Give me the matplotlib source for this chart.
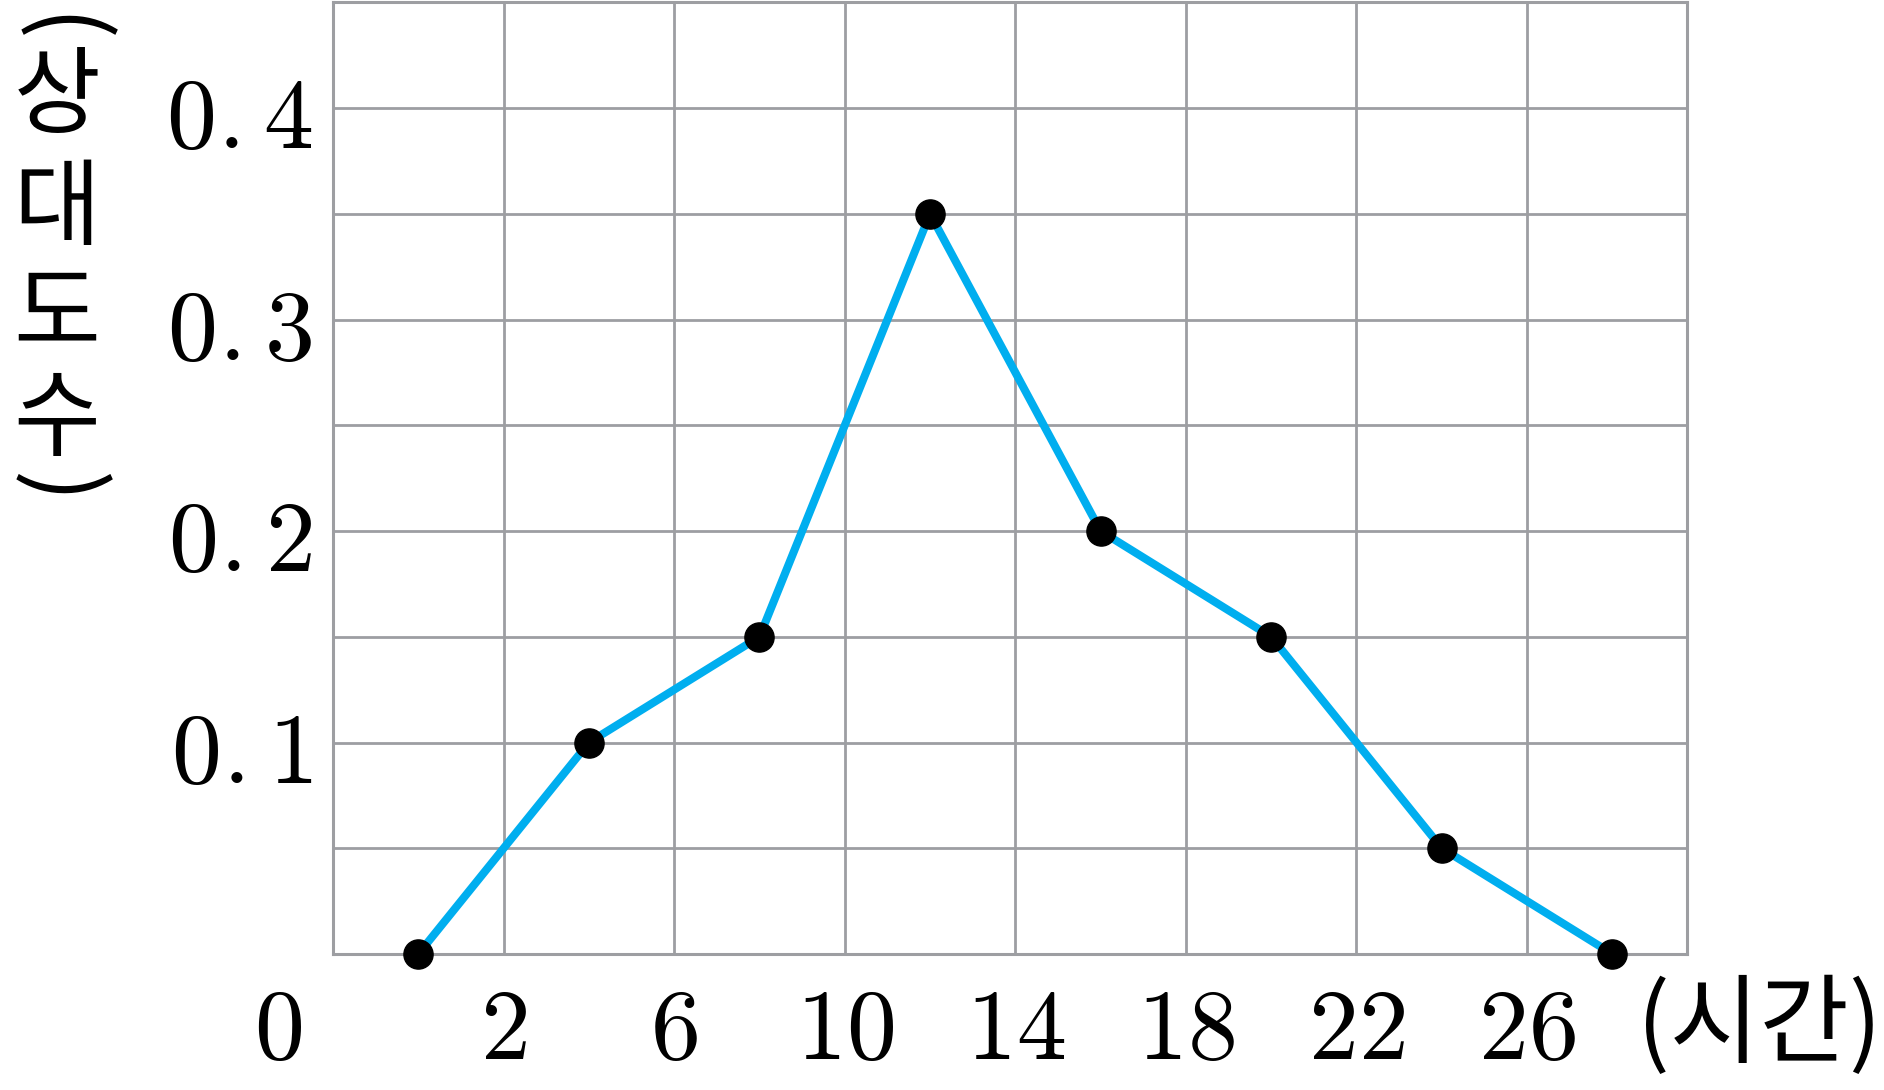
import matplotlib
matplotlib.use("Agg")
import matplotlib.pyplot as plt
from matplotlib.ticker import MultipleLocator

plt.rcParams['mathtext.fontset'] = 'cm'
plt.rcParams['font.family'] = ['Noto Sans CJK KR', 'DejaVu Sans']

# data
hours = [0, 4, 8, 12, 16, 20, 24, 28]
rel_freq = [0, 0.1, 0.15, 0.35, 0.2, 0.15, 0.05, 0]
xtick_vals = [2, 6, 10, 14, 18, 22, 26]
ytick_vals = [0.1, 0.2, 0.3, 0.4]
ylabel_chars = ['상', '대', '도', '수']
xlabel_text = '(시간)'

grid_col = '#9d9ea2'
line_col = '#00aeef'

fig = plt.figure(figsize=(18.84, 10.90), dpi=100)
ax = fig.add_axes([0.1768, 0.1248, 0.8954 - 0.1768, 0.9978 - 0.1248])

ax.set_xlim(-2, 29.75)
ax.set_ylim(0, 0.45)

ax.set_xticks(xtick_vals)
ax.set_xticklabels(['$%d$' % v for v in xtick_vals])
ax.set_yticks(ytick_vals)
ylabels = []
for v in ytick_vals:
    a, b = ('%.1f' % v).split('.')
    ylabels.append(r'$%s\hspace{0.012}.\hspace{0.012}%s$' % (a, b))
ax.set_yticklabels(ylabels)
ax.yaxis.set_minor_locator(MultipleLocator(0.05))
ax.tick_params(which='both', length=0)
ax.tick_params(axis='x', labelsize=72, pad=18)
ax.tick_params(axis='y', labelsize=72, pad=15)

ax.grid(True, which='major', axis='x', color=grid_col, lw=2)
ax.grid(True, which='both', axis='y', color=grid_col, lw=2)
ax.set_axisbelow(True)
for sp in ax.spines.values():
    sp.set_color(grid_col)
    sp.set_linewidth(2.2)

ax.plot(hours, rel_freq, color=line_col, lw=5.8, zorder=3, clip_on=False)
ax.plot(hours, rel_freq, 'o', color='black', ms=21, zorder=4, clip_on=False)

# origin label and x unit
ax.annotate('$0$', xy=(-3.3, 0), xytext=(0, -18), textcoords='offset points',
            fontsize=72, ha='center', va='top', annotation_clip=False)
ax.annotate(xlabel_text, xy=(31.45, 0), xytext=(0, -17), textcoords='offset points',
            fontsize=70, ha='center', va='top', annotation_clip=False)

# vertical y label, one character per line
ys = [98, 210, 316, 421]
for ch, yp in zip(ylabel_chars, ys):
    fig.text(57 / 1884, 1 - yp / 1090, ch, fontsize=68, ha='center', va='center')
fig.text(57 / 1884, 1 - 30 / 1090, '(', fontsize=68, ha='center', va='center', rotation=-90)
fig.text(57 / 1884, 1 - 488 / 1090, ')', fontsize=68, ha='center', va='center', rotation=-90)

fig.savefig('out.png', dpi=100)
